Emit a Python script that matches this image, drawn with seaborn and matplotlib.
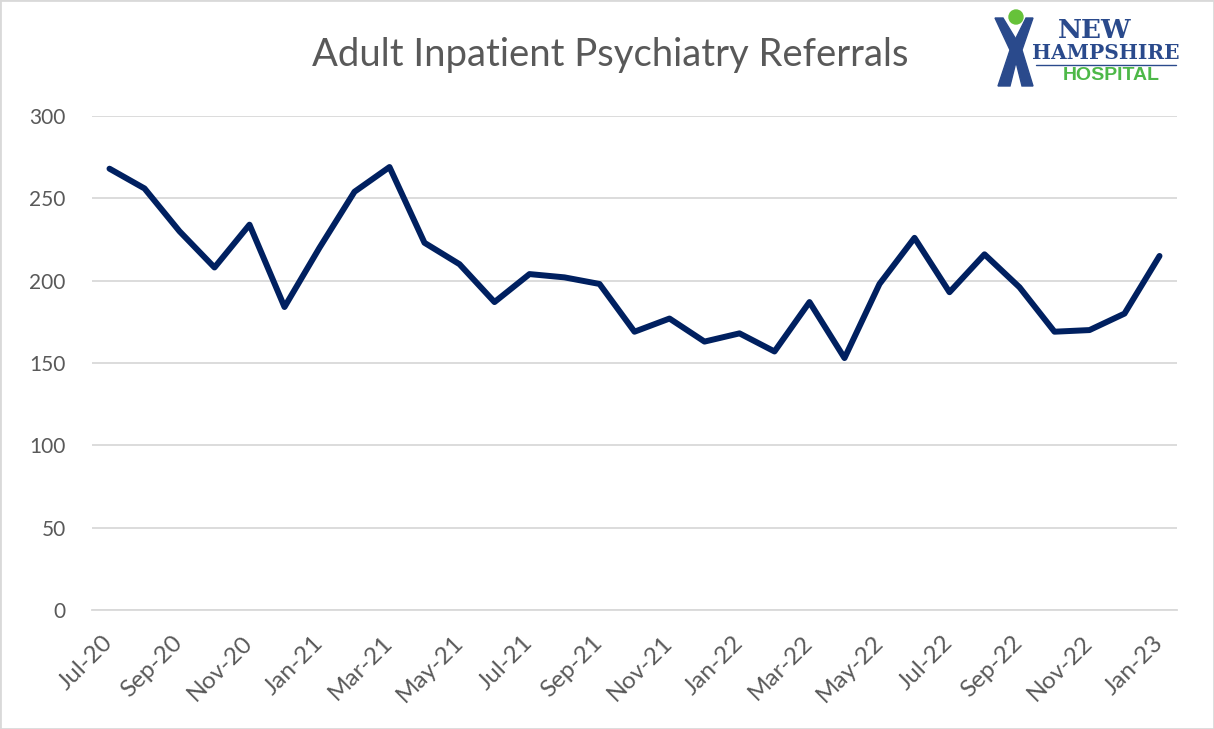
import numpy as np
import pandas as pd
import matplotlib.pyplot as plt
import seaborn as sns
from matplotlib.patches import Circle, Rectangle, Polygon

# Monthly referrals, Jul-20 .. Jan-23
months = ["Jul-20", "Aug-20", "Sep-20", "Oct-20", "Nov-20", "Dec-20",
          "Jan-21", "Feb-21", "Mar-21", "Apr-21", "May-21", "Jun-21",
          "Jul-21", "Aug-21", "Sep-21", "Oct-21", "Nov-21", "Dec-21",
          "Jan-22", "Feb-22", "Mar-22", "Apr-22", "May-22", "Jun-22",
          "Jul-22", "Aug-22", "Sep-22", "Oct-22", "Nov-22", "Dec-22",
          "Jan-23"]
referrals = [268, 256, 230, 208, 234, 184,
             220, 254, 269, 223, 210, 187,
             204, 202, 198, 169, 177, 163,
             168, 157, 187, 153, 198, 226,
             193, 216, 196, 169, 170, 180,
             215]
y_ticks = [0, 50, 100, 150, 200, 250, 300]

df = pd.DataFrame({"month": months, "referrals": referrals})
df["pos"] = np.arange(len(df))

W, H = 1214, 729
sns.set_theme(style="white")
plt.rcParams['font.family'] = ['Lato', 'DejaVu Sans']

fig = plt.figure(figsize=(W / 100, H / 100), dpi=100)
fig.patch.set_facecolor("white")

ax = fig.add_axes([92 / W, 1 - 610 / H, (1177 - 92) / W, (610 - 116) / H])
sns.lineplot(data=df, x="pos", y="referrals", ax=ax, color="#002060",
             linewidth=4.3, solid_capstyle="round", solid_joinstyle="round")

ax.set_xlim(-0.5, len(df) - 0.5)
ax.set_ylim(0, 300)
ax.set_yticks(y_ticks)
ax.yaxis.grid(True, color="#d9d9d9", linewidth=1.3)
ax.set_axisbelow(True)
ax.set_xlabel("")
ax.set_ylabel("")

# labels every second month, tick marks between categories
ax.set_xticks(df["pos"][::2])
ax.set_xticklabels(df["month"][::2], rotation=45, ha="right",
                   va="center", rotation_mode="anchor")
ax.set_xticks(np.arange(-0.5, len(df), 2), minor=True)
ax.tick_params(axis="x", which="major", length=0, pad=21,
               labelsize=17.5, labelcolor="#595959")
ax.tick_params(axis="x", which="minor", length=6, color="#d9d9d9", width=1.3)
ax.tick_params(axis="y", length=0, pad=19, labelsize=15, labelcolor="#595959")
for s in ["top", "right", "left"]:
    ax.spines[s].set_visible(False)
ax.spines["bottom"].set_color("#d9d9d9")
ax.spines["bottom"].set_linewidth(1.3)

fig.text(610 / W, 1 - 55 / H, "Adult Inpatient Psychiatry Referrals",
         ha="center", va="center", fontsize=27.5, color="#595959")

# logo (pixel coordinates inside a small axes)
lg = fig.add_axes([988 / W, 1 - 90 / H, 200 / W, 85 / H])
lg.set_xlim(988, 1188)
lg.set_ylim(90, 5)
lg.axis("off")
blue = "#2a4a8c"
lg.add_patch(Polygon([(995, 18), (1003, 18), (1020, 46), (1010, 86), (998, 86),
                      (1010, 50)], closed=True, color=blue))
lg.add_patch(Polygon([(1033, 18), (1026, 18), (1012, 46), (1022, 86), (1033, 86),
                      (1022, 50)], closed=True, color=blue))
lg.add_patch(Circle((1016, 17), 7, color="#66c23a"))
lg.text(1095, 31, "NEW", ha="center", va="center", fontsize=19,
        family="DejaVu Serif", weight="bold", color=blue)
lg.text(1106, 53, "HAMPSHIRE", ha="center", va="center", fontsize=14.5,
        family="DejaVu Serif", weight="bold", color=blue)
lg.plot([1036, 1176], [65, 65], color=blue, lw=1)
lg.text(1111, 76, "HOSPITAL", ha="center", va="center", fontsize=14,
        family="Liberation Sans", weight="bold", color="#4db848")

fig.add_artist(Rectangle((0, 0), 1, 1, transform=fig.transFigure, fill=False,
                         edgecolor="#d9d9d9", linewidth=2))

fig.savefig("out.png", dpi=100)
